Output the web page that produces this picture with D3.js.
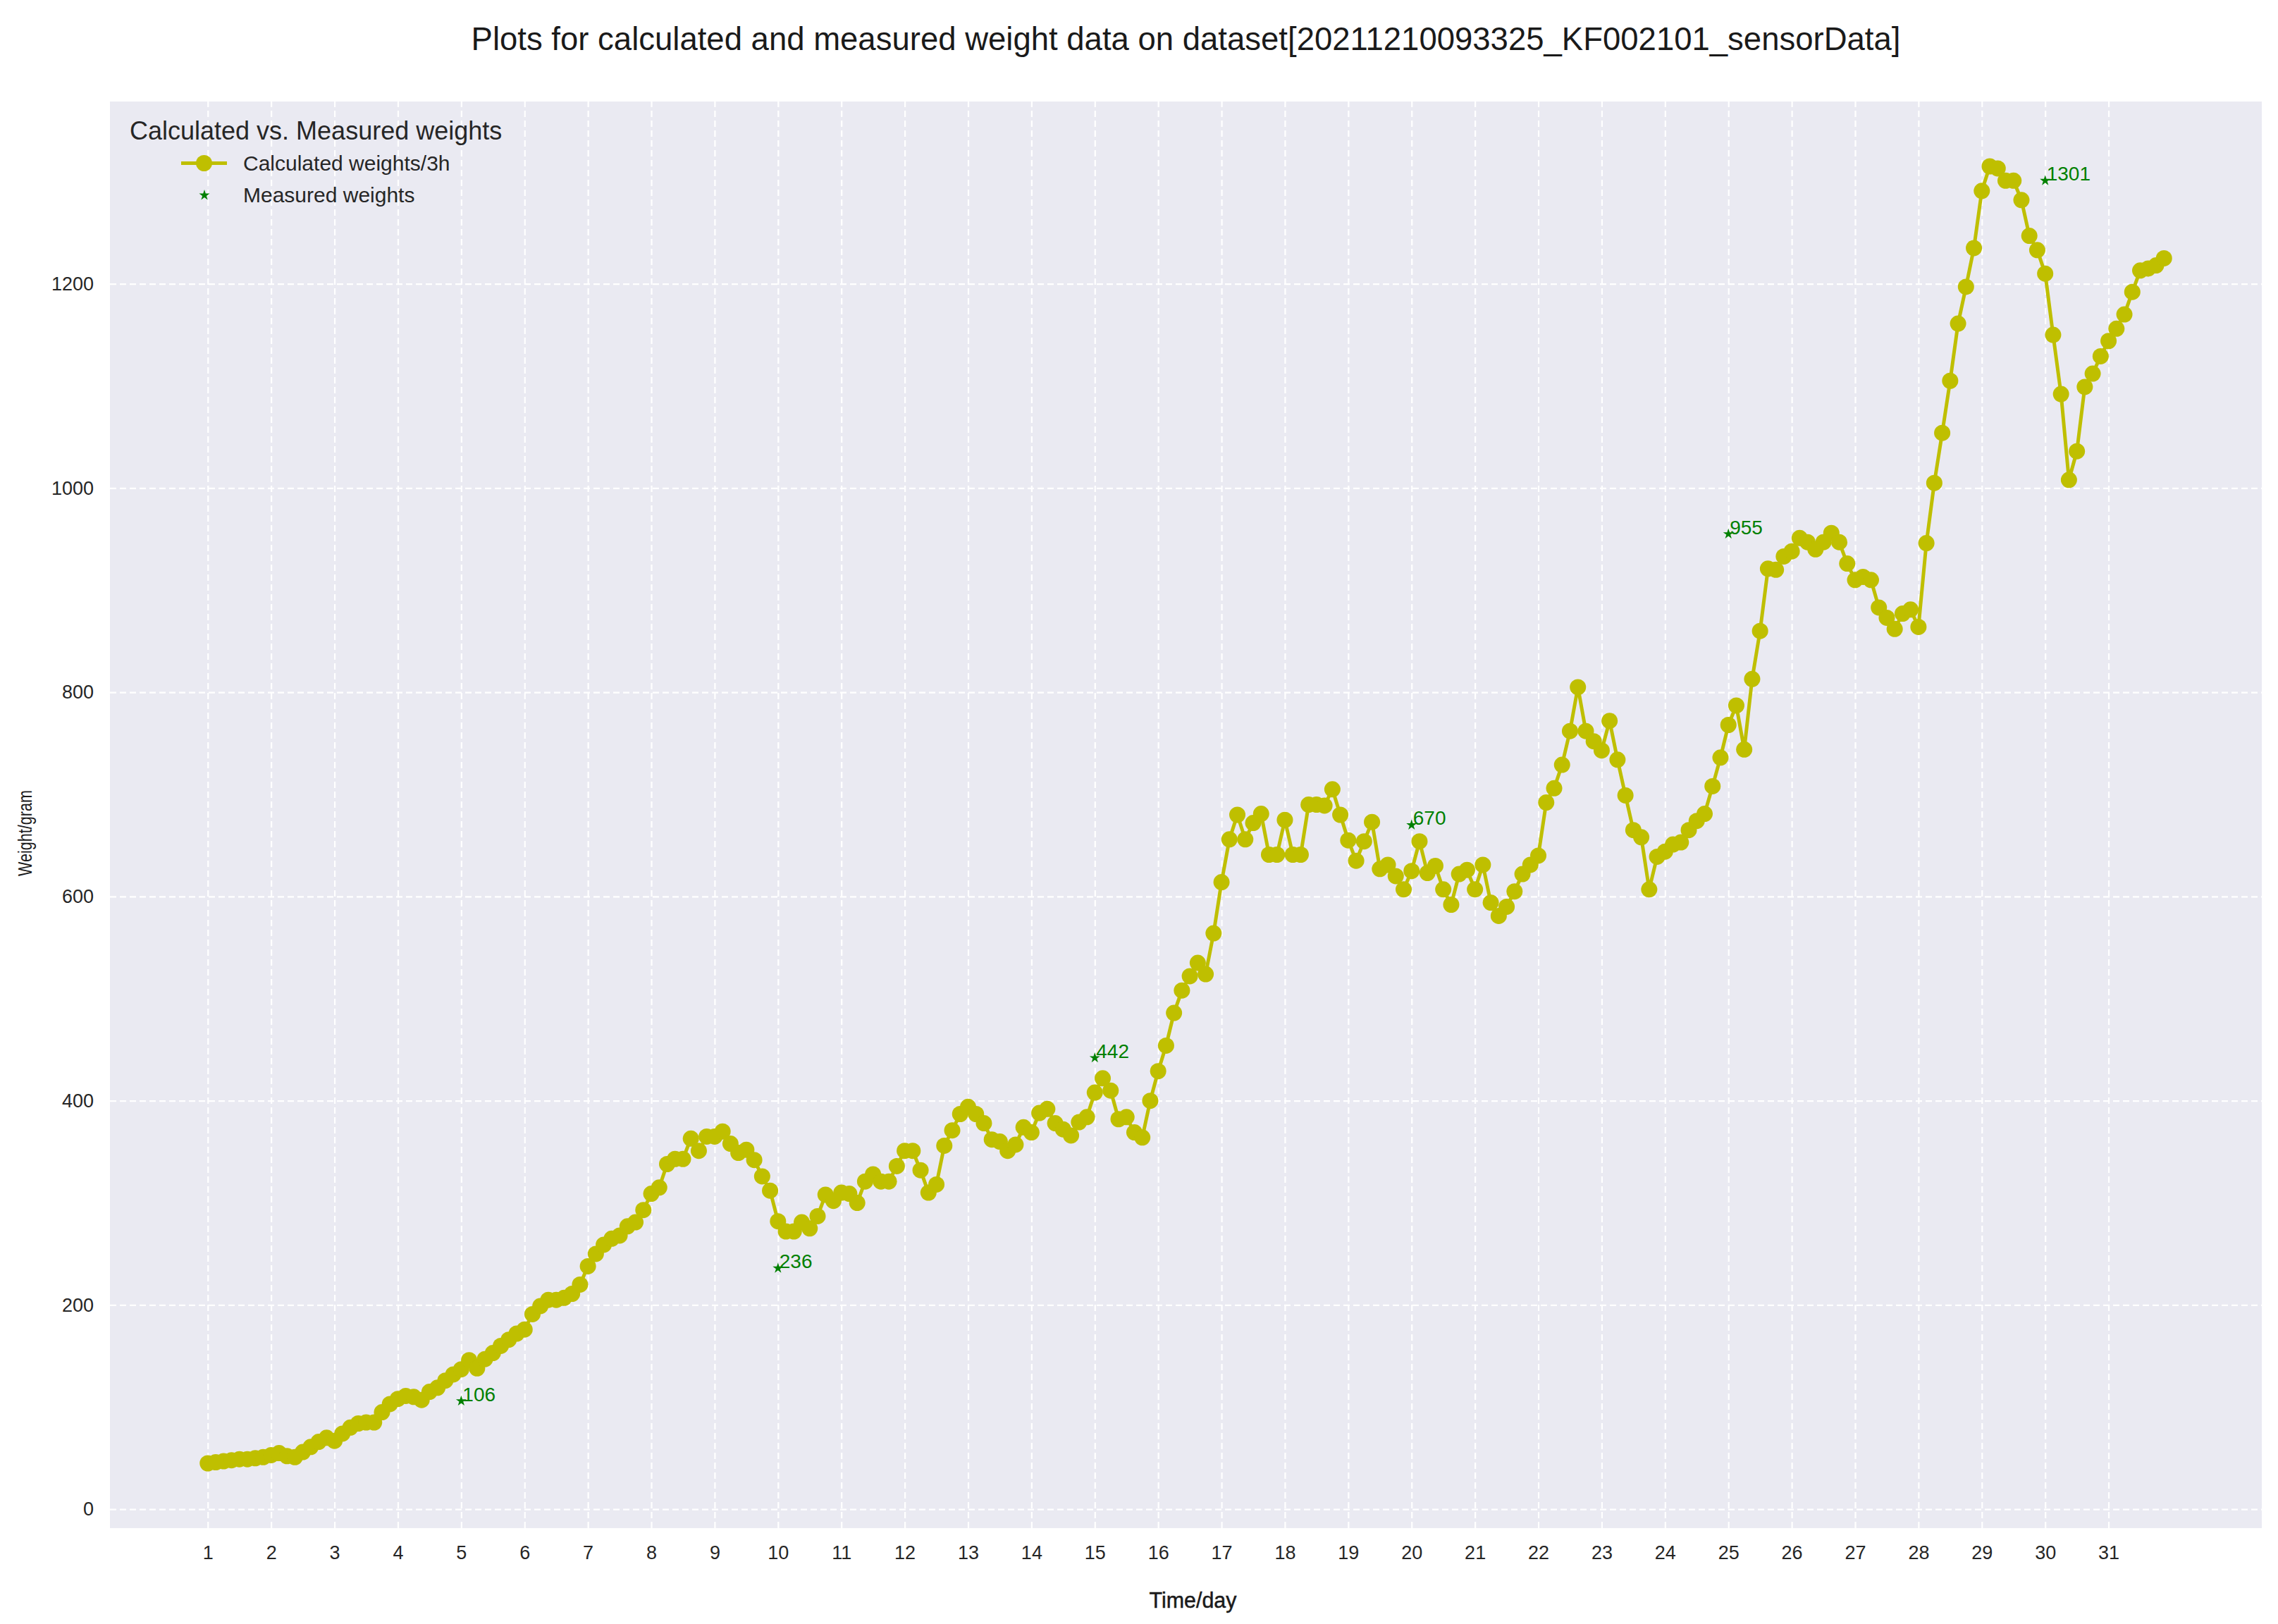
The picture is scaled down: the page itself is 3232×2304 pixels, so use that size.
<!DOCTYPE html>
<html>
<head>
<meta charset="utf-8">
<script src="https://cdn.jsdelivr.net/npm/d3@7"></script>
<style>
  html, body { margin: 0; padding: 0; background: #ffffff; }
  svg { display: block; font-family: "Liberation Sans", Arial, sans-serif; }
</style>
</head>
<body>
<svg id="chart" width="3232" height="2304"></svg>
<script>
// ---------------- data ----------------
const chartTitle = "Plots for calculated and measured weight data on dataset[20211210093325_KF002101_sensorData]";
const xLabel = "Time/day";
const yLabel = "Weight/gram";
const legendTitle = "Calculated vs. Measured weights";
const seriesNames = ["Calculated weights/3h", "Measured weights"];

const startDay = 1;
const hoursPerStep = 3;

// calculated weights, one value every 3 hours starting at day 1
const calcWeights = [
  45, 46, 47, 48, 49, 49, 50, 51,
  53, 55, 52, 51, 56, 61, 66, 70,
  67, 74, 80, 84, 85, 85, 95, 103,
  108, 111, 110, 107, 115, 119, 126, 132,
  137, 146, 138, 147, 153, 160, 166, 172,
  176, 191, 199, 205, 205, 207, 211, 220,
  238, 250, 259, 265, 268, 277, 281, 293,
  309, 315, 338, 343, 343, 363, 351, 365,
  365, 370, 358, 349, 352, 342, 326, 312,
  282, 272, 272, 281, 275, 287, 308, 302,
  310, 309, 300, 321, 328, 321, 321, 336,
  351, 351, 332, 310, 318, 356, 371, 387,
  394, 387, 378, 362, 360, 351, 357, 374,
  369, 388, 392, 378, 372, 366, 379, 384,
  408, 422, 410, 382, 384, 369, 364, 400,
  429, 454, 486, 508, 522, 535, 524, 564,
  614, 656, 680, 656, 672, 681, 641, 641,
  675, 641, 641, 690, 690, 689, 705, 680,
  655, 635, 654, 673, 627, 631, 620, 607,
  625, 654, 623, 630, 607, 592, 622, 626,
  607, 631, 594, 581, 590, 605, 622, 631,
  640, 692, 706, 729, 762, 805, 762, 752,
  743, 772, 734, 699, 665, 658, 607, 639,
  644, 651, 653, 665, 674, 681, 708, 736,
  768, 787, 744, 813, 860, 921, 920, 933,
  938, 951, 947, 940, 947, 956, 947, 926,
  910, 913, 910, 883, 873, 862, 877, 881,
  864, 946, 1005, 1054, 1105, 1161, 1197, 1235,
  1291, 1315, 1313, 1301, 1301, 1282, 1247, 1233,
  1210, 1150, 1092, 1008, 1036, 1099, 1112, 1129,
  1144, 1156, 1170, 1192, 1213, 1215, 1218, 1225
];

const measuredDays = [5, 10, 15, 20, 25, 30];
const measuredWeights = [106, 236, 442, 670, 955, 1301];

const xTicks = [1,2,3,4,5,6,7,8,9,10,11,12,13,14,15,16,17,18,19,20,21,22,23,24,25,26,27,28,29,30,31];
const yTicks = [0, 200, 400, 600, 800, 1000, 1200];

// ---------------- layout / style ----------------
const plot = { left: 156, right: 3209, top: 144, bottom: 2168 };
const lineColor = "#bfbf00";
const starColor = "#008000";
const bgColor = "#eaeaf2";

const calcData = calcWeights.map((w, i) => ({ day: startDay + i * hoursPerStep / 24, w }));
const measData = measuredDays.map((d, i) => ({ day: d, w: measuredWeights[i] }));

const allDays = calcData.map(d => d.day).concat(measuredDays);
const allW = calcWeights.concat(measuredWeights);
const xMin = d3.min(allDays), xMax = d3.max(allDays);
const yMin = d3.min(allW), yMax = d3.max(allW);
const xPad = (xMax - xMin) * 0.05, yPad = (yMax - yMin) * 0.05;

const x = d3.scaleLinear().domain([xMin - xPad, xMax + xPad]).range([plot.left, plot.right]);
const y = d3.scaleLinear().domain([yMin - yPad, yMax + yPad]).range([plot.bottom, plot.top]);

const svg = d3.select("#chart");

svg.append("rect")
  .attr("x", plot.left).attr("y", plot.top)
  .attr("width", plot.right - plot.left).attr("height", plot.bottom - plot.top)
  .attr("fill", bgColor);

// x axis with grid
const gx = svg.append("g")
  .attr("transform", `translate(0,${plot.bottom})`)
  .call(d3.axisBottom(x).tickValues(xTicks).tickFormat(d3.format("d"))
        .tickSize(-(plot.bottom - plot.top)).tickPadding(25));
gx.select(".domain").remove();
gx.selectAll(".tick line")
  .attr("stroke", "#ffffff").attr("stroke-width", 2.2).attr("stroke-dasharray", "9,5");
gx.selectAll(".tick text")
  .attr("fill", "#262626").attr("font-size", 27)
  .attr("font-family", '"Liberation Sans", Arial, sans-serif');

// y axis with grid
const gy = svg.append("g")
  .attr("transform", `translate(${plot.left},0)`)
  .call(d3.axisLeft(y).tickValues(yTicks).tickFormat(d3.format("d"))
        .tickSize(-(plot.right - plot.left)).tickPadding(23));
gy.select(".domain").remove();
gy.selectAll(".tick line")
  .attr("stroke", "#ffffff").attr("stroke-width", 2.2).attr("stroke-dasharray", "9,5");
gy.selectAll(".tick text")
  .attr("fill", "#262626").attr("font-size", 27)
  .attr("font-family", '"Liberation Sans", Arial, sans-serif');

// calculated line
const line = d3.line().x(d => x(d.day)).y(d => y(d.w));
svg.append("path")
  .datum(calcData)
  .attr("d", line)
  .attr("fill", "none")
  .attr("stroke", lineColor)
  .attr("stroke-width", 5)
  .attr("stroke-linejoin", "round");

svg.append("g").selectAll("circle")
  .data(calcData).join("circle")
  .attr("cx", d => x(d.day)).attr("cy", d => y(d.w))
  .attr("r", 11.5).attr("fill", lineColor);

// measured stars + labels
const star = d3.symbol().type(d3.symbolStar).size(70);
svg.append("g").selectAll("path")
  .data(measData).join("path")
  .attr("d", star)
  .attr("transform", d => `translate(${x(d.day)},${y(d.w)})`)
  .attr("fill", starColor);

svg.append("g").selectAll("text")
  .data(measData).join("text")
  .attr("x", d => x(d.day) + 2)
  .attr("y", d => y(d.w))
  .attr("fill", starColor)
  .attr("font-size", 28)
  .text(d => d.w);

// title
svg.append("text")
  .attr("x", (plot.left + plot.right) / 2).attr("y", 71)
  .attr("text-anchor", "middle")
  .attr("fill", "#1a1a1a").attr("font-size", 45.5)
  .text(chartTitle);

// axis labels
svg.append("text")
  .attr("x", (plot.left + plot.right) / 2 + 10).attr("y", 2281)
  .attr("text-anchor", "middle").attr("fill", "#1a1a1a").attr("font-size", 31)
  .attr("stroke", "#1a1a1a").attr("stroke-width", 0.5)
  .attr("textLength", 124).attr("lengthAdjust", "spacingAndGlyphs")
  .text(xLabel);

svg.append("text")
  .attr("transform", `translate(45,${(plot.top + plot.bottom) / 2 + 26}) rotate(-90)`)
  .attr("text-anchor", "middle").attr("fill", "#1a1a1a").attr("font-size", 27)
  .attr("textLength", 122).attr("lengthAdjust", "spacingAndGlyphs")
  .text(yLabel);

// legend
const lg = svg.append("g");
lg.append("text").attr("x", 184).attr("y", 198)
  .attr("fill", "#262626").attr("font-size", 36).text(legendTitle);
lg.append("line").attr("x1", 257).attr("x2", 322).attr("y1", 231.5).attr("y2", 231.5)
  .attr("stroke", lineColor).attr("stroke-width", 5);
lg.append("circle").attr("cx", 289.5).attr("cy", 231.5).attr("r", 11.5).attr("fill", lineColor);
lg.append("text").attr("x", 345).attr("y", 242)
  .attr("fill", "#262626").attr("font-size", 30).text(seriesNames[0]);
lg.append("path").attr("d", star)
  .attr("transform", "translate(290,277)").attr("fill", starColor);
lg.append("text").attr("x", 345).attr("y", 287)
  .attr("fill", "#262626").attr("font-size", 30).text(seriesNames[1]);
</script>
</body>
</html>
